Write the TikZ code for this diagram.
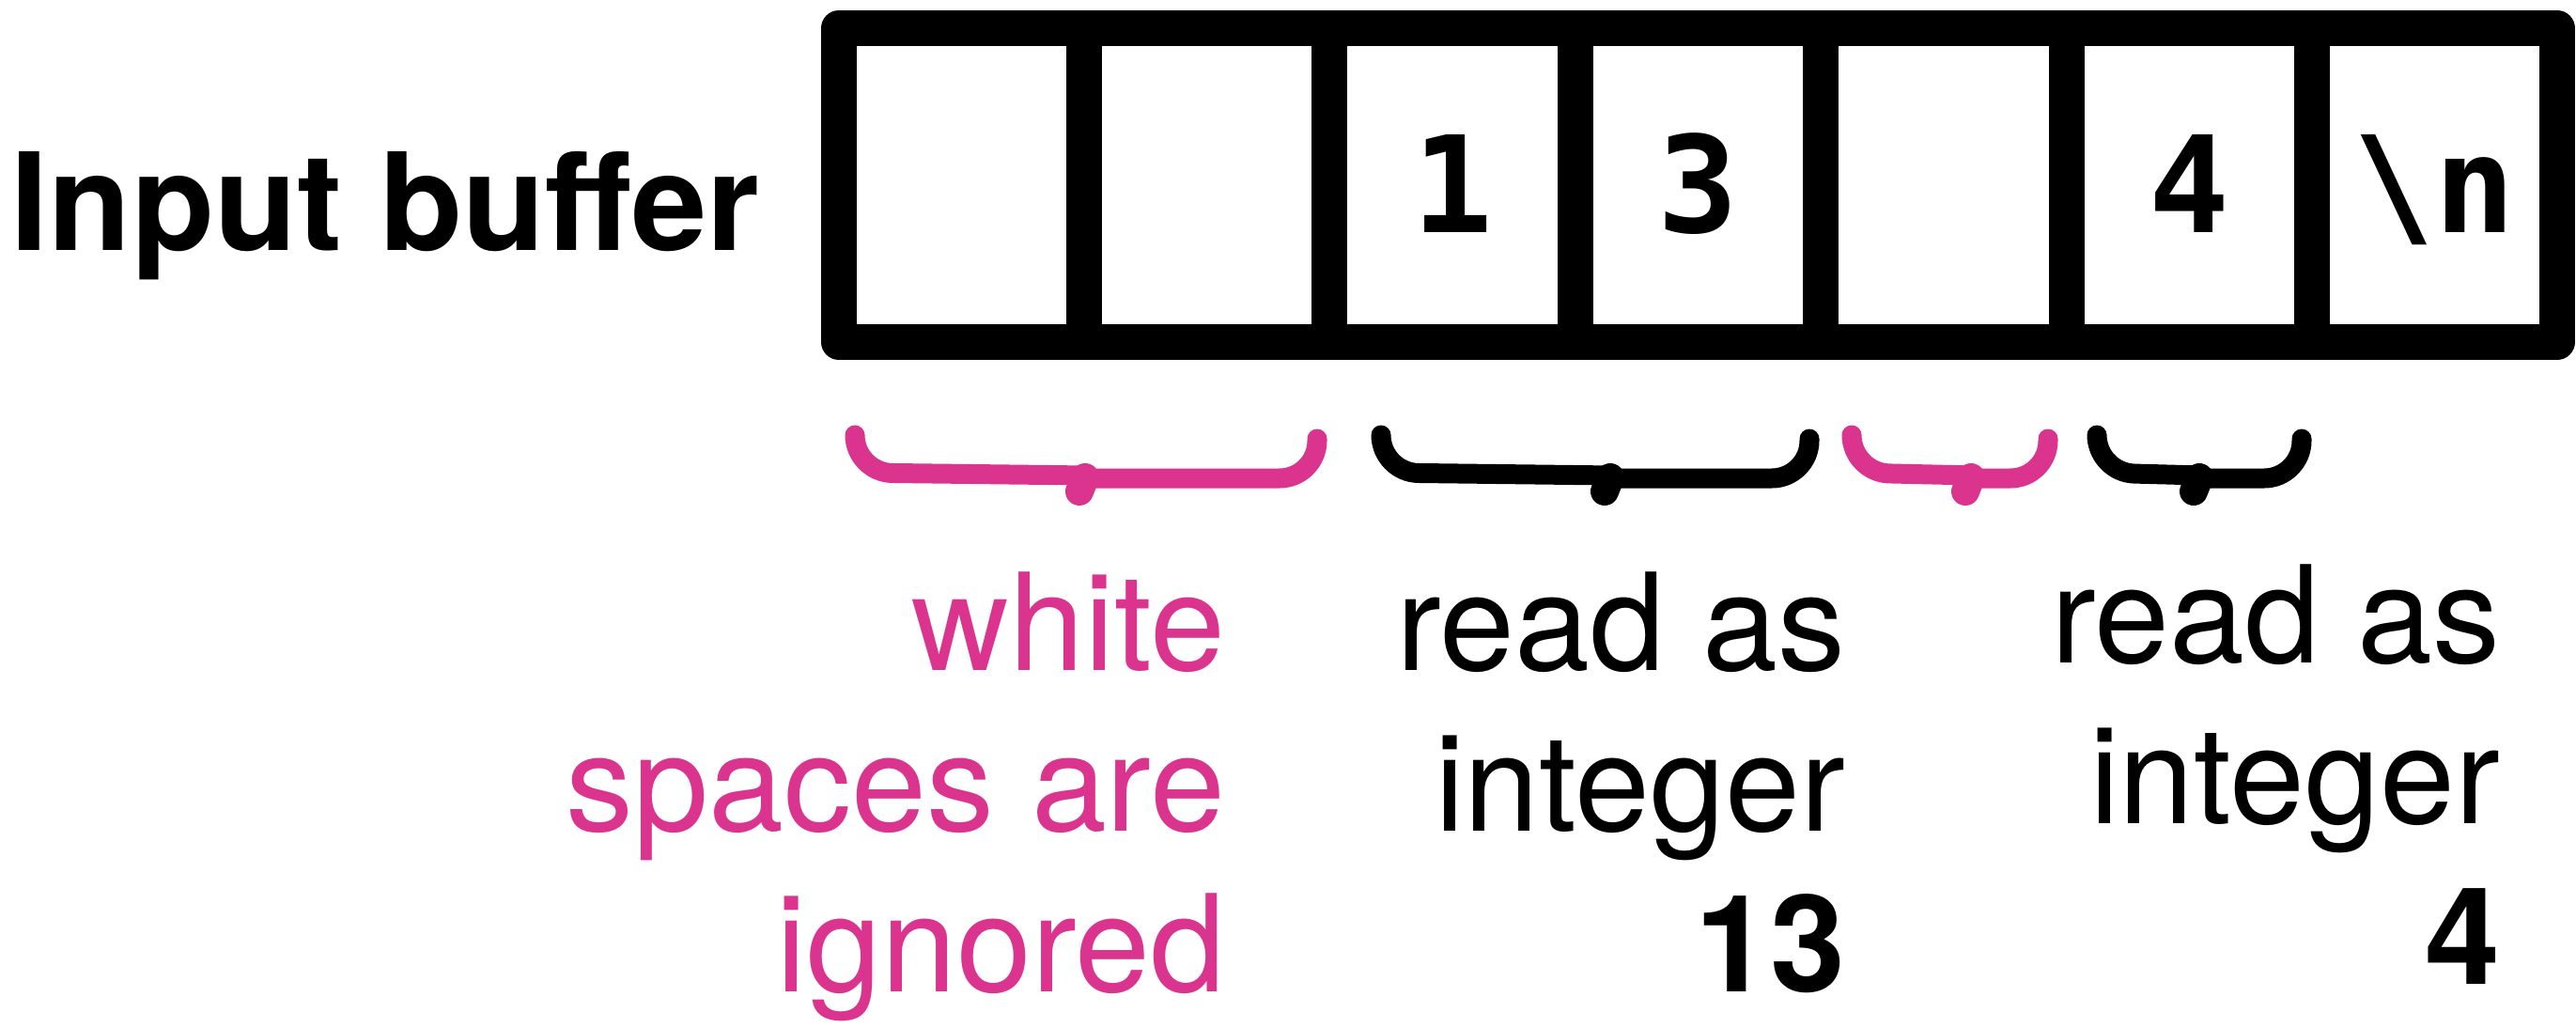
\documentclass[tikz,border=0pt]{standalone}
\usepackage{fontspec}
\setmainfont{TeX Gyre Heros}
\newfontfamily\monofont{DejaVu Sans Mono}
\usepackage{tikz}
\usetikzlibrary{positioning}
\usepackage{xcolor}
\definecolor{wspink}{RGB}{218,52,142}

\begin{document}
\begin{tikzpicture}[
    cell/.style={draw,line width=0.38cm,line join=round,minimum width=2.614cm,minimum height=3.33cm,
      inner sep=0pt,text height=1.0cm,text depth=0pt,font=\monofont\bfseries\fontsize{40.6pt}{48pt}\selectfont},
    note/.style={align=right,inner sep=0pt,anchor=north east,font=\fontsize{40.9pt}{48.6pt}\selectfont},
    bracestroke/.style={line width=0.21cm,line cap=round,rounded corners=0.4cm},
    bracetip/.style={line width=0.3cm,line cap=round}]
  \useasboundingbox (0,0) rectangle (27.42,10.93);
  \node[anchor=base west,inner sep=0pt,font=\bfseries\fontsize{41pt}{48pt}\selectfont] (buffer label) at (0.11,8.27) {Input buffer};
  \foreach \i/\ch in {1/{},2/{},3/1,4/3,5/{},6/4,7/{\textbackslash n}}
    \node[cell] (cell \i) at ({8.925+2.614*(\i-0.5)},8.96) {\ch};
  \foreach \col/\xa/\xm/\xb in {wspink/9.10/11.52/14.02,black/14.70/17.11/19.26,wspink/19.71/20.95/21.80,black/22.32/23.38/24.50}
  {
    \draw[bracestroke,\col] (\xa,6.30) -- (\xa,5.90) -- (\xm+0.05,5.87);
    \draw[bracestroke,\col] (\xm,5.84) -- (\xb,5.84) -- (\xb,6.26);
    \draw[bracetip,\col] (\xm+0.03,5.85) -- ++(-0.06,-0.15);
  }
  \node[note,wspink] (ws note) at (13.05,4.85) {white\\spaces are\\ignored};
  \node[note] (int note a) at (19.65,4.85) {read as\\integer\\\textbf{13}};
  \node[note] (int note b) at (26.62,4.93) {read as\\integer\\\textbf{4}};
\end{tikzpicture}
\end{document}
